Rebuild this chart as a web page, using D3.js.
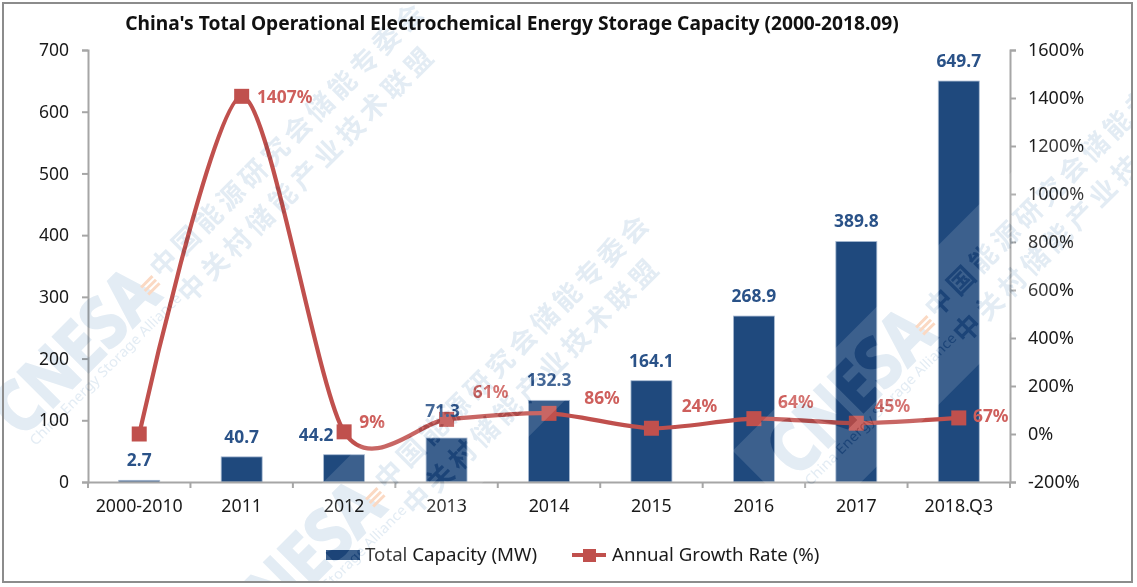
<!DOCTYPE html>
<html>
<head>
<meta charset="utf-8">
<script src="https://cdn.jsdelivr.net/npm/d3@7"></script>
<style>
  html, body { margin: 0; padding: 0; background: #fff; }
  svg { display: block; font-family: "Noto Sans", "Noto Sans CJK SC", sans-serif; }
</style>
</head>
<body>
<div id="chart"></div>
<script>
var categories = ["2000-2010", "2011", "2012", "2013", "2014", "2015", "2016", "2017", "2018.Q3"];
var capacity = [2.7, 40.7, 44.2, 71.3, 132.3, 164.1, 268.9, 389.8, 649.7];
var growth = [0, 1407, 9, 61, 86, 24, 64, 45, 67];
var growthLabels = ["", "1407%", "9%", "61%", "86%", "24%", "64%", "45%", "67%"];
var leftTicks = [0, 100, 200, 300, 400, 500, 600, 700];
var rightTicks = [-200, 0, 200, 400, 600, 800, 1000, 1200, 1400, 1600];

var width = 1137, height = 587;
var margin = { top: 50, right: 127, bottom: 105, left: 88 };
var blue = "#1F497D", red = "#C0504D", axisGrey = "#A6A6A6";

var svg = d3.select("#chart").append("svg")
    .attr("width", width)
    .attr("height", height);

svg.append("text")
    .attr("x", 512).attr("y", 30)
    .attr("text-anchor", "middle")
    .attr("font-size", 19.2)
    .attr("font-weight", 700)
    .attr("fill", "#111")
    .text("China's Total Operational Electrochemical Energy Storage Capacity (2000-2018.09)");

var x = d3.scaleBand()
    .domain(categories)
    .range([margin.left, width - margin.right])
    .paddingInner(0.6)
    .paddingOuter(0.3);
var yLeft = d3.scaleLinear().domain([0, 700]).range([height - margin.bottom, margin.top]);
var yRight = d3.scaleLinear().domain([-200, 1600]).range([height - margin.bottom, margin.top]);
var cx = function (i) { return x(categories[i]) + x.bandwidth() / 2; };

// bars
svg.selectAll("rect.bar")
    .data(capacity)
    .join("rect")
    .attr("class", "bar")
    .attr("x", function (d, i) { return x(categories[i]); })
    .attr("y", function (d) { return yLeft(d); })
    .attr("width", x.bandwidth())
    .attr("height", function (d) { return yLeft(0) - yLeft(d); })
    .attr("fill", blue)
    .attr("stroke", "#A9BBD3")
    .attr("stroke-width", 0.8);

// axes
function styleAxis(g, size) {
    g.selectAll("path, line").attr("stroke", axisGrey).attr("stroke-width", 2);
    g.selectAll("text").attr("fill", "#1A1A1A").attr("font-size", size)
        .attr("font-family", "\"Noto Sans\", sans-serif");
}
svg.append("g")
    .attr("transform", "translate(" + margin.left + ",0)")
    .call(d3.axisLeft(yLeft).tickValues(leftTicks).tickSize(6).tickPadding(13))
    .call(styleAxis, 17.5);
svg.append("g")
    .attr("transform", "translate(" + (width - margin.right) + ",0)")
    .call(d3.axisRight(yRight).tickValues(rightTicks).tickSize(6).tickPadding(12)
        .tickFormat(function (d) { return d + "%"; }))
    .call(styleAxis, 18);
var xAxis = svg.append("g")
    .attr("transform", "translate(0," + yLeft(0) + ")")
    .call(d3.axisBottom(x).tickSize(0).tickPadding(17))
    .call(styleAxis, 17.8);

// x ticks sit on the band edges, not the centres
var edges = categories.map(function (c) { return x(c) + x.bandwidth() / 2 - x.step() / 2; })
    .concat([width - margin.right]);
xAxis.selectAll("line.edge")
    .data(edges)
    .join("line")
    .attr("class", "edge")
    .attr("x1", function (d) { return d; })
    .attr("x2", function (d) { return d; })
    .attr("y1", 0).attr("y2", 6)
    .attr("stroke", axisGrey)
    .attr("stroke-width", 2);

// growth line
var line = d3.line()
    .x(function (d, i) { return cx(i); })
    .y(function (d) { return yRight(d); })
    .curve(d3.curveCardinal.tension(0.2));
svg.append("path")
    .datum(growth)
    .attr("d", line)
    .attr("fill", "none")
    .attr("stroke", red)
    .attr("stroke-width", 4.2);
svg.selectAll("rect.marker")
    .data(growth)
    .join("rect")
    .attr("class", "marker")
    .attr("x", function (d, i) { return cx(i) - 7.5; })
    .attr("y", function (d) { return yRight(d) - 7.5; })
    .attr("width", 15).attr("height", 15)
    .attr("fill", red);

// value labels
var capacityNudge = [[0, 0], [0, 0], [-28, 0], [-4, -7], [0, 0], [0, 0], [0, 0], [0, 0], [0, 0]];
svg.selectAll("text.cap")
    .data(capacity)
    .join("text")
    .attr("class", "cap")
    .attr("x", function (d, i) { return cx(i) + capacityNudge[i][0]; })
    .attr("y", function (d, i) { return yLeft(d) - 14 + capacityNudge[i][1]; })
    .attr("text-anchor", "middle")
    .attr("font-size", 17.4)
    .attr("font-weight", 700)
    .attr("fill", "#2A5288")
    .text(function (d) { return d; });

var growthNudge = [[0, 0], [43, 7], [28, -4], [44, -21], [53, -9], [48, -16], [42, -11], [36, -11], [32, 4]];
svg.selectAll("text.growth")
    .data(growth)
    .join("text")
    .attr("class", "growth")
    .attr("x", function (d, i) { return cx(i) + growthNudge[i][0]; })
    .attr("y", function (d, i) { return yRight(d) + growthNudge[i][1]; })
    .attr("text-anchor", "middle")
    .attr("font-size", 17.4)
    .attr("font-weight", 700)
    .attr("fill", "#CE5F5C")
    .text(function (d, i) { return growthLabels[i]; });

// legend
var legend = svg.append("g").attr("font-size", 18.7).attr("fill", "#1A1A1A");
legend.append("rect")
    .attr("x", 326).attr("y", 550)
    .attr("width", 34).attr("height", 10)
    .attr("fill", blue);
legend.append("text").attr("x", 365).attr("y", 561).text("Total Capacity (MW)");
legend.append("line")
    .attr("x1", 572).attr("x2", 606)
    .attr("y1", 555).attr("y2", 555)
    .attr("stroke", red).attr("stroke-width", 4.2);
legend.append("rect")
    .attr("x", 583).attr("y", 549)
    .attr("width", 13).attr("height", 13)
    .attr("fill", red);
legend.append("text").attr("x", 612).attr("y", 561).text("Annual Growth Rate (%)");

// watermark, laid over the whole chart
var stamps = [[925, 325], [150, 285], [375, 497]];

function stampText(g, fill) {
    g.append("text").attr("x", -200).attr("y", 18)
        .attr("font-size", 70).attr("font-weight", 700)
        .attr("textLength", 200).attr("lengthAdjust", "spacingAndGlyphs")
        .attr("stroke", fill).attr("stroke-width", 2.5)
        .attr("fill", fill).text("CNESA");
    g.append("text").attr("x", -195).attr("y", 33)
        .attr("font-size", 14)
        .attr("textLength", 208).attr("lengthAdjust", "spacingAndGlyphs")
        .attr("fill", fill)
        .text("China Energy Storage Alliance");
    g.append("text").attr("x", 12).attr("y", 4)
        .attr("font-size", 27).attr("font-family", "\"Noto Sans CJK SC\"")
        .attr("font-weight", 700)
        .attr("letter-spacing", 4.5).attr("fill", fill)
        .text("中国能源研究会储能专委会");
    g.append("text").attr("x", 14).attr("y", 42)
        .attr("font-size", 27).attr("font-family", "\"Noto Sans CJK SC\"")
        .attr("font-weight", 700)
        .attr("letter-spacing", 5).attr("fill", fill)
        .text("中关村储能产业技术联盟");
}

var defs = svg.append("defs");
var mark = svg.append("g");
stamps.forEach(function (s, i) {
    var tf = "translate(" + s[0] + "," + s[1] + ") rotate(-45)";
    var mask = defs.append("mask")
        .attr("id", "knock" + i)
        .attr("maskUnits", "userSpaceOnUse")
        .attr("x", 0).attr("y", 0)
        .attr("width", width).attr("height", height);
    mask.append("rect").attr("width", width).attr("height", height).attr("fill", "#fff");
    stampText(mask.append("g").attr("transform", tf), "#000");

    // pale band, with the lettering cut out of it; the left stamp has no bars under it
    if (i !== 1) {
        mark.append("g")
            .attr("mask", "url(#knock" + i + ")")
            .append("rect")
            .attr("transform", tf)
            .attr("x", -225).attr("y", -47)
            .attr("width", 500).attr("height", 113)
            .attr("fill", "#fff")
            .attr("fill-opacity", 0.13);
    }

    var t = mark.append("g")
        .attr("transform", tf)
        .style("mix-blend-mode", "multiply");
    stampText(t, "#E3ECF4");
    [-6, -1, 4].forEach(function (o) {
        t.append("rect")
            .attr("x", -8).attr("y", o)
            .attr("width", 16).attr("height", 3)
            .attr("fill", "#FBD9C3");
    });
});

// keep the watermark inside the frame
svg.append("rect")
    .attr("x", 0).attr("y", 582).attr("width", width).attr("height", 5).attr("fill", "#fff");
svg.append("rect")
    .attr("x", 1132).attr("y", 0).attr("width", 5).attr("height", height).attr("fill", "#fff");

// outer frame
svg.append("rect")
    .attr("x", 3).attr("y", 3)
    .attr("width", 1129).attr("height", 579)
    .attr("fill", "none")
    .attr("stroke", "#8C8C8C")
    .attr("stroke-width", 2);
</script>
</body>
</html>
